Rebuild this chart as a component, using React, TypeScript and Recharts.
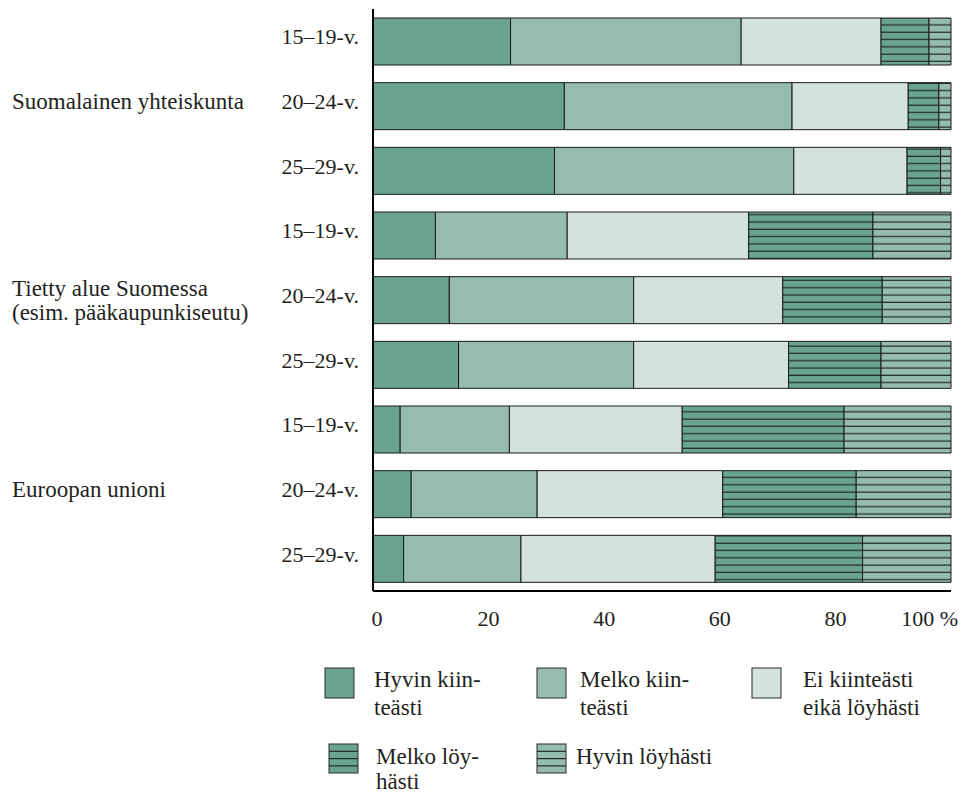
import { BarChart, Bar, XAxis, YAxis } from "recharts";

// age rows, three per group
const ageLabels = ["15–19-v.", "20–24-v.", "25–29-v.", "15–19-v.", "20–24-v.", "25–29-v.", "15–19-v.", "20–24-v.", "25–29-v."];
const groupLabels = [["Suomalainen yhteiskunta"], ["Tietty alue Suomessa", "(esim. pääkaupunkiseutu)"], ["Euroopan unioni"]];

const hyvinKiintea = [23.8, 33.1, 31.4, 10.8, 13.2, 14.8, 4.7, 6.6, 5.3];
const melkoKiintea = [39.9, 39.4, 41.4, 22.8, 31.9, 30.3, 18.9, 21.8, 20.3];
const eiKumpikaan = [24.2, 20.1, 19.6, 31.4, 25.8, 26.8, 29.9, 32.1, 33.6];
const melkoLoyha = [8.3, 5.3, 5.8, 21.5, 17.2, 16.0, 28.0, 23.1, 25.5];
const hyvinLoyha = [3.8, 2.1, 1.8, 13.5, 11.9, 12.1, 18.5, 16.4, 15.3];

const xTicks = [0, 20, 40, 60, 80, 100];
const legendLabels = [["Hyvin kiin-", "teästi"], ["Melko kiin-", "teästi"], ["Ei kiinteästi", "eikä löyhästi"], ["Melko löy-", "hästi"], ["Hyvin löyhästi"]];

const C_DARK = "#6ba393";
const C_MID = "#96bbb0";
const C_LIGHT = "#d4e2df";
const INK = "#231f20";
const serif = { fontFamily: '"Liberation Serif", "DejaVu Serif", serif' };

const data = ageLabels.map((age, i) => ({
  key: String(i),
  age,
  hk: hyvinKiintea[i],
  mk: melkoKiintea[i],
  ei: eiKumpikaan[i],
  ml: melkoLoyha[i],
  hl: hyvinLoyha[i],
}));

function AgeTick(props: any) {
  const { x, y, payload } = props;
  const i = Number(payload.value);
  const group = i % 3 === 1 ? groupLabels[Math.floor(i / 3)] : null;
  return (
    <g fill={INK}>
      <text x={x} y={y + 3} textAnchor="end" fontSize={22} style={serif}>
        {ageLabels[i]}
      </text>
      {group &&
        group.map((line, k) => (
          <text key={k} x={12} y={group.length > 1 ? y - 4 + k * 24 : y + 3} fontSize={23} style={serif}>
            {line}
          </text>
        ))}
    </g>
  );
}

function PctTick(props: any) {
  const { x, y, payload } = props;
  const last = payload.value === 100;
  return (
    <text
      x={last ? x + 7 : payload.value === 0 ? x + 4 : x}
      y={y + 35}
      textAnchor={last ? "end" : "middle"}
      fontSize={22}
      style={serif}
      fill={INK}
    >
      {last ? "100 %" : payload.value}
    </text>
  );
}

function HatchPattern({ id, color }: { id: string; color: string }) {
  return (
    <pattern id={id} patternUnits="userSpaceOnUse" width={20} height={7.3}>
      <rect width={20} height={7.3} fill={color} />
      <line x1={0} x2={20} y1={3} y2={3} stroke="#1e2a27" strokeWidth={1.2} />
    </pattern>
  );
}

function Legend() {
  const swatches = [
    { x: 325, y: 668, fill: C_DARK, hatch: false, tx: 374, ty: 687 },
    { x: 537, y: 668, fill: C_MID, hatch: false, tx: 580, ty: 687 },
    { x: 752, y: 668, fill: C_LIGHT, hatch: false, tx: 803, ty: 687 },
    { x: 329, y: 744, fill: C_DARK, hatch: true, tx: 376, ty: 764 },
    { x: 537, y: 744, fill: C_MID, hatch: true, tx: 576, ty: 764 },
  ];
  return (
    <svg width={963} height={796} style={{ position: "absolute", left: 0, top: 0, pointerEvents: "none" }}>
      {swatches.map((s, i) => (
        <g key={i}>
          <rect x={s.x} y={s.y} width={29} height={s.hatch ? 29 : 30} fill={s.fill} stroke="#2a2a2a" strokeWidth={1} />
          {s.hatch &&
            [7.3, 14.6, 21.9].map((d) => (
              <line key={d} x1={s.x} x2={s.x + 29} y1={s.y + d} y2={s.y + d} stroke="#1e2a27" strokeWidth={1.2} />
            ))}
          {legendLabels[i].map((line, k) => (
            <text key={k} x={s.tx} y={s.ty + k * (i > 2 ? 25 : 28)} fontSize={23} style={serif} fill={INK}>
              {line}
            </text>
          ))}
        </g>
      ))}
    </svg>
  );
}

export default function App() {
  return (
    <div style={{ position: "absolute", left: 0, top: 0, width: 963, height: 796, background: "#fff" }}>
      <BarChart
        width={963}
        height={640}
        data={data}
        layout="vertical"
        margin={{ top: 9, right: 12, bottom: 9, left: 0 }}
        barCategoryGap={9}
      >
        <defs>
          <HatchPattern id="hatchDark" color={C_DARK} />
          <HatchPattern id="hatchMid" color={C_MID} />
        </defs>
        <XAxis
          type="number"
          domain={[0, 100]}
          ticks={xTicks}
          height={40}
          tickSize={0}
          tickMargin={0}
          tickLine={false}
          axisLine={{ stroke: "#000", strokeWidth: 2 }}
          tick={<PctTick />}
        />
        <YAxis
          type="category"
          dataKey="key"
          width={373}
          tickSize={0}
          tickMargin={14}
          tickLine={false}
          axisLine={{ stroke: "#000", strokeWidth: 2 }}
          tick={<AgeTick />}
          interval={0}
        />
        <Bar dataKey="hk" stackId="a" fill={C_DARK} stroke="#1a1a1a" strokeWidth={1} isAnimationActive={false} />
        <Bar dataKey="mk" stackId="a" fill={C_MID} stroke="#1a1a1a" strokeWidth={1} isAnimationActive={false} />
        <Bar dataKey="ei" stackId="a" fill={C_LIGHT} stroke="#1a1a1a" strokeWidth={1} isAnimationActive={false} />
        <Bar dataKey="ml" stackId="a" fill="url(#hatchDark)" stroke="#1a1a1a" strokeWidth={1} isAnimationActive={false} />
        <Bar dataKey="hl" stackId="a" fill="url(#hatchMid)" stroke="#1a1a1a" strokeWidth={1} isAnimationActive={false} />
      </BarChart>
      <Legend />
    </div>
  );
}
